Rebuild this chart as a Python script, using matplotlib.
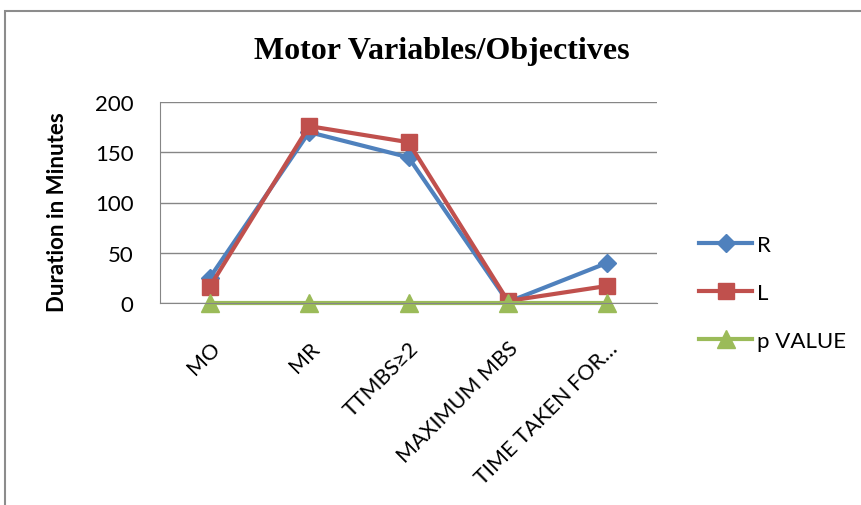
import matplotlib.pyplot as plt
from matplotlib.patches import Rectangle

# 运动变量数据
categories = ['MO', 'MR', 'TTMBS≥2', 'MAXIMUM MBS', 'TIME TAKEN FOR…']
r_values = [25, 170, 145, 1, 40]
l_values = [16, 176, 160, 2, 17]
p_values = [0, 0, 0, 0, 0]

plt.rcParams['font.family'] = ['Lato', 'DejaVu Sans']

fig = plt.figure(figsize=(8.61, 5.06), dpi=100)
# 外框
fig.patches.append(Rectangle((5 / 861, -0.05), 1.0, 1 - 12 / 506 + 0.05,
                             transform=fig.transFigure, fill=False,
                             edgecolor='#8c8c8c', linewidth=1.5))

ax = fig.add_axes([160 / 861, 1 - 304 / 506, 497 / 861, 201 / 506])
x = range(len(categories))
ax.plot(x, r_values, '-D', color='#4F81BD', linewidth=3, markersize=9, label='R')
ax.plot(x, l_values, '-s', color='#C0504D', linewidth=3, markersize=12, label='L')
ax.plot(x, p_values, '-^', color='#9BBB59', linewidth=3, markersize=13, label='p VALUE',
        clip_on=False)

ax.set_xlim(-0.5, 4.5)
ax.set_ylim(0, 200)
ax.set_yticks([0, 50, 100, 150, 200])
ax.grid(axis='y', color='#868686', linewidth=1)
ax.set_axisbelow(True)
for side in ['top', 'right']:
    ax.spines[side].set_visible(False)
for side in ['left', 'bottom']:
    ax.spines[side].set_color('#868686')
ax.tick_params(axis='y', length=0, labelsize=16, pad=19)
ax.tick_params(axis='x', length=0, labelsize=15.5, pad=25)
ax.set_xticks(list(x))
ax.set_xticklabels(categories, rotation=45, ha='right', rotation_mode='anchor')
ax.set_ylabel('Duration in Minutes', fontsize=16, fontweight='bold')
ax.yaxis.set_label_coords(-0.185, 0.458)

fig.text(442 / 861, 1 - 51 / 506, 'Motor Variables/Objectives', ha='center', va='center',
         fontsize=23, fontweight='bold', family='Liberation Serif')

fig.legend(loc='upper left', bbox_to_anchor=(679 / 861, 1 - 216 / 506), frameon=False,
           fontsize=16, labelspacing=1.25, handlelength=2.4, handletextpad=0.2)

plt.savefig('out.png', dpi=100)
